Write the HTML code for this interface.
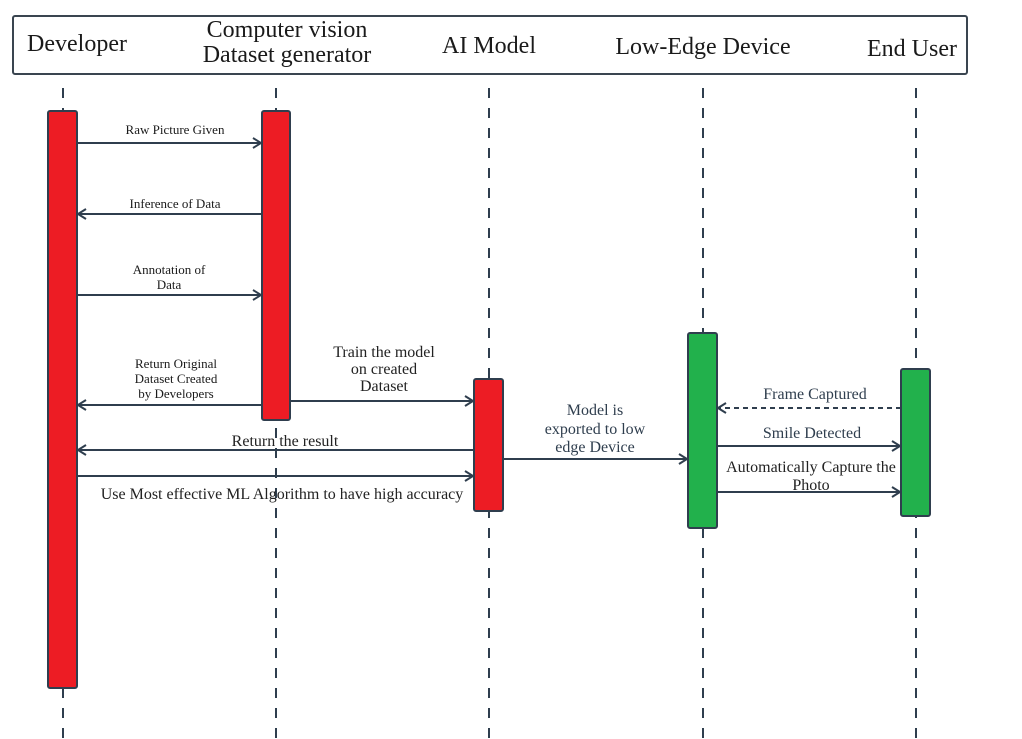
<!DOCTYPE html>
<html><head><meta charset="utf-8"><style>html,body{margin:0;padding:0;background:#fff}svg{display:block}</style></head>
<body>
<svg width="1022" height="739" viewBox="0 0 1022 739" xmlns="http://www.w3.org/2000/svg" font-family="'Liberation Serif', serif" fill="#1a1a1a">
<defs>
<marker id="a" markerWidth="12" markerHeight="12" refX="10" refY="6" orient="auto" markerUnits="userSpaceOnUse">
<path d="M2,1 L10,6 L2,11" fill="none" stroke="#2f3e4e" stroke-width="2"/>
</marker>
</defs>
<rect x="13" y="16" width="954" height="58" rx="2" fill="#fff" stroke="#3a4550" stroke-width="2"/>
<g font-size="24" text-anchor="middle">
<text x="77" y="51">Developer</text>
<text x="287" y="37">Computer vision</text>
<text x="287" y="62">Dataset generator</text>
<text x="489" y="53">AI Model</text>
<text x="703" y="54">Low-Edge Device</text>
<text x="912" y="56">End User</text>
</g>
<g stroke="#2f3e4e" stroke-width="2" stroke-dasharray="10,10">
<line x1="63" y1="88" x2="63" y2="739"/>
<line x1="276" y1="88" x2="276" y2="739"/>
<line x1="489" y1="88" x2="489" y2="739"/>
<line x1="703" y1="88" x2="703" y2="739"/>
<line x1="916" y1="88" x2="916" y2="739"/>
</g>
<g stroke="#2f3e4e" stroke-width="2">
<rect x="48" y="111" width="29" height="577" rx="2" fill="#ed1c24"/>
<rect x="262" y="111" width="28" height="309" rx="2" fill="#ed1c24"/>
<rect x="474" y="379" width="29" height="132" rx="2" fill="#ed1c24"/>
<rect x="688" y="333" width="29" height="195" rx="2" fill="#22b14c"/>
<rect x="901" y="369" width="29" height="147" rx="2" fill="#22b14c"/>
</g>
<g stroke="#2f3e4e" stroke-width="2" marker-end="url(#a)">
<line x1="77" y1="143" x2="261" y2="143"/>
<line x1="262" y1="214" x2="78" y2="214"/>
<line x1="77" y1="295" x2="261" y2="295"/>
<line x1="262" y1="405" x2="78" y2="405"/>
<line x1="290" y1="401" x2="473" y2="401"/>
<line x1="474" y1="450" x2="78" y2="450"/>
<line x1="77" y1="476" x2="473" y2="476"/>
<line x1="503" y1="459" x2="687" y2="459"/>
<line x1="901" y1="408" x2="718" y2="408" stroke-dasharray="5,4"/>
<line x1="717" y1="446" x2="900" y2="446"/>
<line x1="717" y1="492" x2="900" y2="492"/>
</g>
<g font-size="13" text-anchor="middle">
<text x="175" y="134">Raw Picture Given</text>
<text x="175" y="208">Inference of Data</text>
<text x="169" y="274">Annotation of</text>
<text x="169" y="289">Data</text>
<text x="176" y="368">Return Original</text>
<text x="176" y="383">Dataset Created</text>
<text x="176" y="398">by Developers</text>
</g>
<g font-size="16" text-anchor="middle" fill="#222">
<text x="384" y="357">Train the model</text>
<text x="384" y="374">on created</text>
<text x="384" y="391">Dataset</text>
<text x="285" y="446">Return the result</text>
<text x="282" y="499">Use Most effective ML Algorithm to have high accuracy</text>
<text x="595" y="415" fill="#2f3e4e">Model is</text>
<text x="595" y="434" fill="#2f3e4e">exported to low</text>
<text x="595" y="452" fill="#2f3e4e">edge Device</text>
<text x="815" y="399" fill="#2f3e4e">Frame Captured</text>
<text x="812" y="438" fill="#2f3e4e">Smile Detected</text>
<text x="811" y="472">Automatically Capture the</text>
<text x="811" y="490">Photo</text>
</g>
</svg>
</body></html>
